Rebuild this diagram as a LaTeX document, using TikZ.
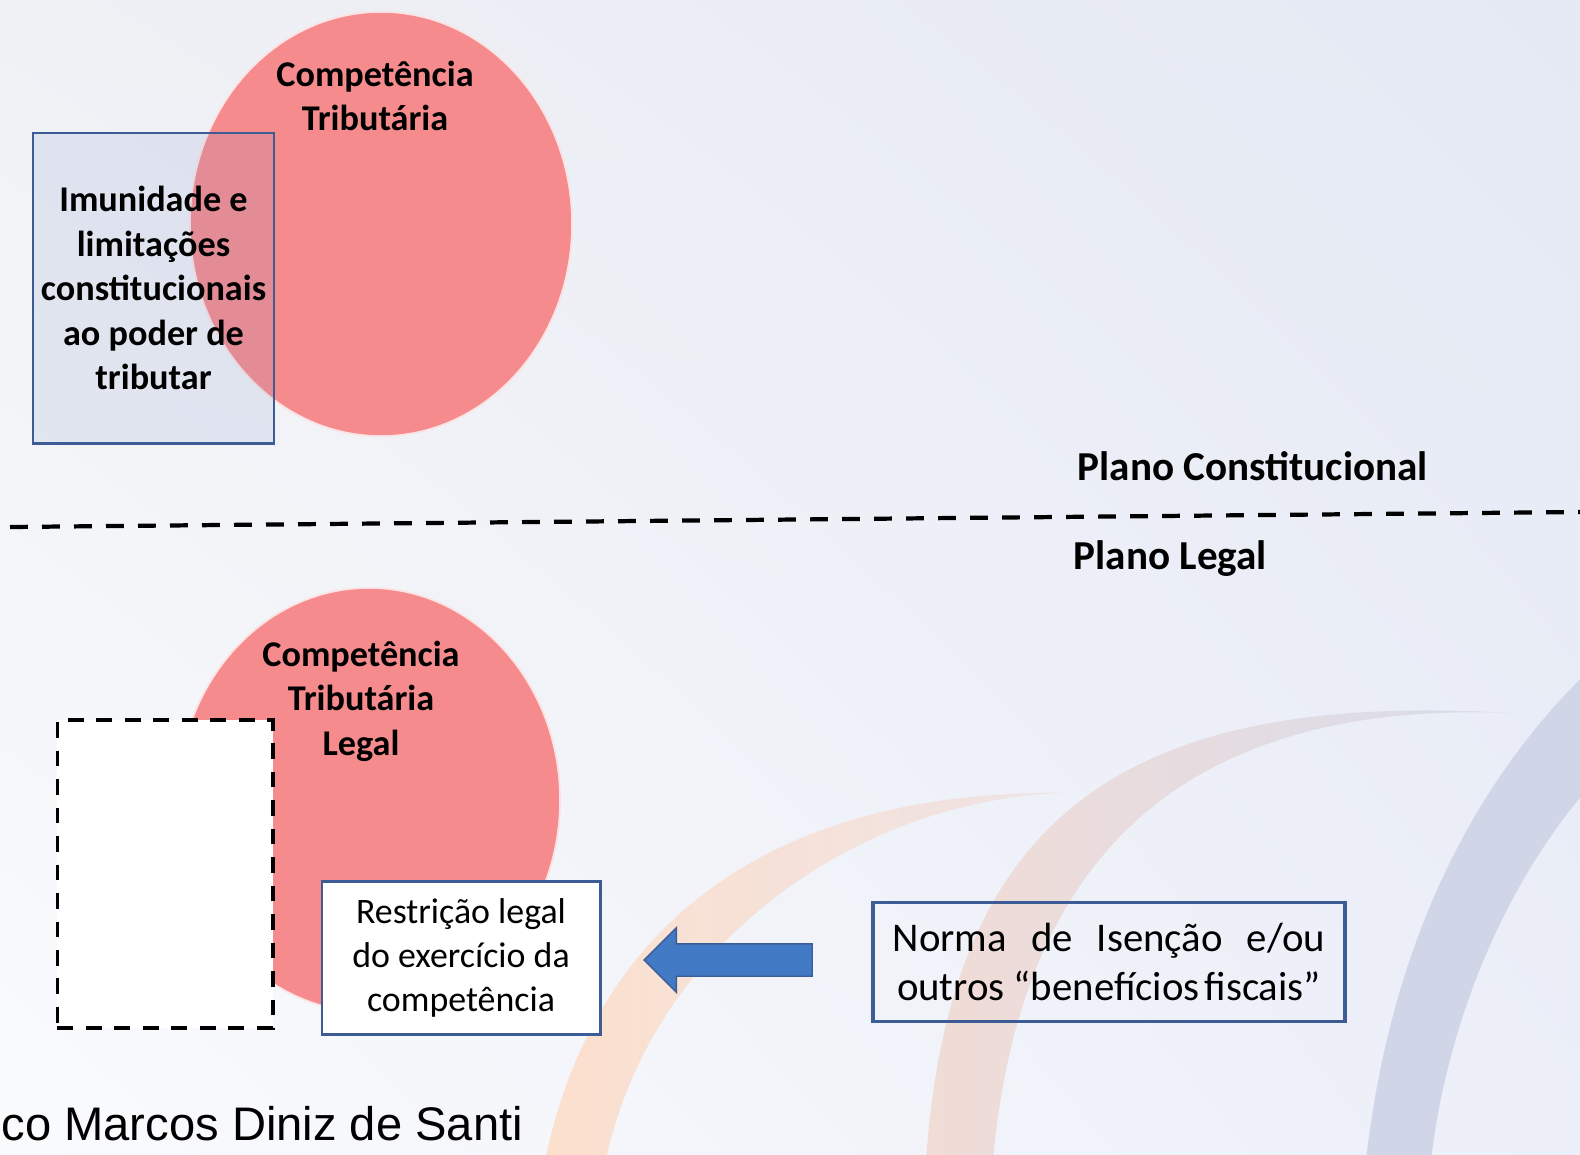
\documentclass[tikz,border=0pt]{standalone}
\usepackage{fontspec}
\setmainfont{Carlito}
\newfontfamily\arialfont{Liberation Sans}
\usetikzlibrary{shapes.geometric,shapes.arrows,shadings,calc}

\definecolor{circlepink}{RGB}{245,139,141}
\definecolor{boxblue}{RGB}{60,92,150}
\definecolor{veilblue}{RGB}{125,147,200}
\definecolor{arrowblue}{RGB}{66,121,196}
\definecolor{peacharc}{RGB}{252,224,206}
\definecolor{peachtip}{RGB}{238,227,229}
\definecolor{midpeach}{RGB}{241,220,214}
\definecolor{midlav}{RGB}{216,220,235}
\definecolor{bluearc}{RGB}{208,214,232}
\definecolor{bgtl}{RGB}{240,241,245}
\definecolor{bgtr}{RGB}{228,233,244}
\definecolor{bgbl}{RGB}{250,251,253}
\definecolor{bgbr}{RGB}{236,239,248}

\begin{document}
\begin{tikzpicture}[x=0.01cm, y=-0.01cm,
            competence/.style={ellipse, fill=circlepink, draw=circlepink!25!white, line width=0.5pt,
                minimum width=3.82cm, minimum height=4.24cm, inner sep=0pt},
            boldtext/.style={font=\bfseries\fontsize{10.3}{12.66}\selectfont, align=center, inner sep=0pt},
            planetext/.style={font=\bfseries\fontsize{11.7}{14}\selectfont, anchor=west, inner sep=0pt},
            bluebox/.style={draw=boxblue, line width=0.8pt, align=center, inner sep=0pt},
            planeline/.style={line width=1.2pt, dash pattern=on 5.1pt off 4pt}]
            \useasboundingbox (0,0) rectangle (1580,1154);
            \clip (0,0) rectangle (1580,1154);
            \shade[upper left=bgtl, upper right=bgtr, lower left=bgbl, lower right=bgbr]
                (0,0) rectangle (1580,1154);
            \shade[left color=peacharc, right color=peachtip]
                (545,1160) .. controls (600,900) and (800,790) .. (1064,793)
                .. controls (850,800) and (650,950) .. (606,1160) -- cycle;
            \shade[left color=midpeach, right color=midlav]
                (926,1160) .. controls (950,820) and (1120,690) .. (1511,713)
                .. controls (1180,700) and (1020,860) .. (993,1160) -- cycle;
            \fill[bluearc] (1366,1160) .. controls (1390,950) and (1470,780) .. (1600,660)
                -- (1600,775) .. controls (1520,860) and (1450,1000) .. (1431,1160) -- cycle;

            \node[competence] (compC) at (381,224) {};
            \node[boldtext] (compCtext) at (375,96) {Competência\\Tributária};
            \node[bluebox, fill=veilblue, fill opacity=0.15, text opacity=1,
                font=\bfseries\fontsize{10.3}{12.66}\selectfont,
                minimum width=2.41cm, minimum height=3.1cm] (limits) at (153.5,288) {Imunidade e\\limitações\\constitucionais\\ao poder de\\tributar};

            \node[planetext] (planeC) at (1077,466) {Plano Constitucional};
            \coordinate (lineL) at (10,527);
            \coordinate (lineR) at (1580,512);
            \draw[planeline] (lineL) -- (lineR);
            \node[planetext] (planeL) at (1073,559) {Plano Legal};

            \node[competence] (compL) at (369,800) {};
            \node[boldtext] (compLtext) at (361,701) {Competência\\Tributária\\Legal};
            \node[draw, fill=white, line width=1.1pt, dash pattern=on 4.5pt off 3.6pt,
                minimum width=2.15cm, minimum height=3.08cm] (vacant) at (165,874) {};
            \node[bluebox, fill=white, font=\fontsize{10.2}{12.5}\selectfont,
                minimum width=2.78cm, minimum height=1.53cm] (restr) at (461,958) {Restrição legal\\do exercício da\\competência};
            \node[bluebox, line width=1pt, font=\fontsize{11.6}{13.7}\selectfont,
                minimum width=4.72cm, minimum height=1.19cm] (norma) at (1109,962)
                {\makebox[123pt][s]{Norma de Isenção e/ou}\\outros “benefícios\hspace{0.12em}fiscais”};
            \node[single arrow, shape border rotate=180, fill=arrowblue, draw=boxblue, line width=0.4pt,
                minimum height=1.68cm, single arrow head extend=0.16cm,
                inner xsep=0pt, inner ysep=0.155cm] (push) at ($(restr.east)!0.5!(norma.west)$) {};

            \node[anchor=base west, inner sep=0pt, font=\arialfont\fontsize{13.4}{16}\selectfont] (author) at (1,1140) {co Marcos Diniz de Santi};
        \end{tikzpicture}
\end{document}
